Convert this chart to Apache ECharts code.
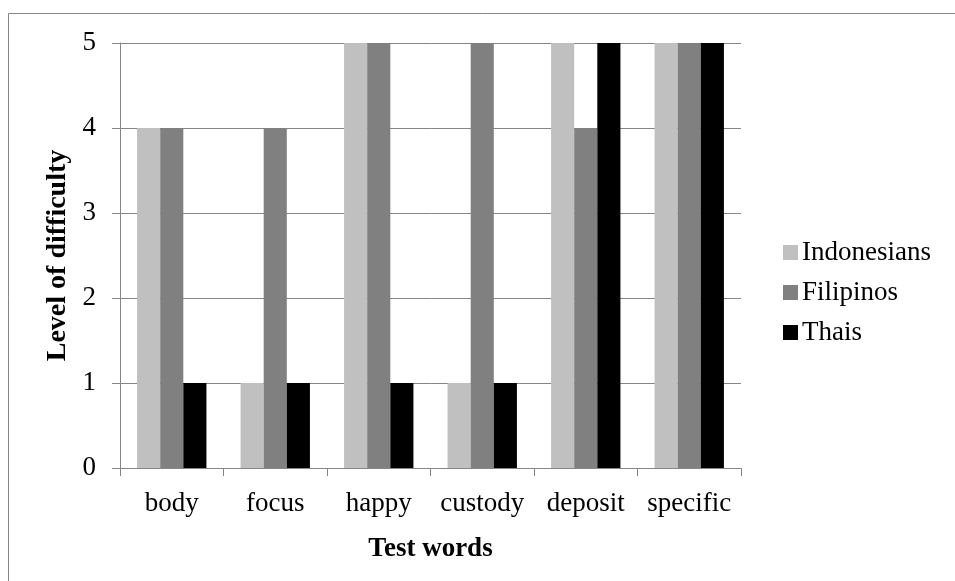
<!DOCTYPE html>
<html>
<head>
<meta charset="utf-8">
<script src="https://cdn.jsdelivr.net/npm/echarts@6/dist/echarts.min.js"></script>
<style>
  html, body { margin: 0; padding: 0; background: #fff; }
  #main { width: 955px; height: 581px; }
</style>
</head>
<body>
<div id="main"></div>
<script>
// data
var words = ["body", "focus", "happy", "custody", "deposit", "specific"];
var indonesians = [4, 1, 5, 1, 5, 5];
var filipinos = [4, 4, 5, 5, 4, 5];
var thais = [1, 1, 1, 1, 5, 5];

var font = "Liberation Serif";
var chart = echarts.init(document.getElementById("main"));

function bar(name, data, color) {
  return {
    name: name,
    type: "bar",
    data: data,
    barGap: "0%",
    barCategoryGap: "33%",
    itemStyle: { color: color },
    emphasis: { disabled: true }
  };
}

chart.setOption({
  animation: false,
  textStyle: { fontFamily: font },
  graphic: [{
    type: "rect",
    shape: { x: 8.5, y: 13.5, width: 990, height: 620 },
    style: { fill: "none", stroke: "#868686", lineWidth: 1 },
    silent: true
  }],
  grid: { left: 120, right: 214, top: 43, bottom: 113 },
  legend: {
    orient: "vertical",
    left: 783,
    top: 239,
    padding: 0,
    itemWidth: 15,
    itemHeight: 15,
    itemGap: 13,
    icon: "rect",
    textStyle: { fontFamily: font, fontSize: 27, color: "#000", padding: [0, 0, 0, -1] },
    data: ["Indonesians", "Filipinos", "Thais"]
  },
  xAxis: {
    type: "category",
    data: words,
    name: "Test words",
    nameLocation: "middle",
    nameGap: 68,
    nameTextStyle: { fontFamily: font, fontSize: 27, fontWeight: "bold", color: "#000" },
    axisLine: { lineStyle: { color: "#868686" } },
    axisTick: { show: true, length: 8, lineStyle: { color: "#868686" } },
    axisLabel: { interval: 0, hideOverlap: false, fontFamily: font, fontSize: 27, color: "#000", margin: 22 }
  },
  yAxis: {
    type: "value",
    min: 0,
    max: 5,
    interval: 1,
    name: "Level of difficulty",
    nameLocation: "middle",
    nameGap: 48,
    nameTextStyle: { fontFamily: font, fontSize: 28, fontWeight: "bold", color: "#000" },
    axisLine: { show: true, lineStyle: { color: "#868686" } },
    axisTick: { show: true, length: 8, lineStyle: { color: "#868686" } },
    splitLine: { lineStyle: { color: "#868686" } },
    axisLabel: { fontFamily: font, fontSize: 27, color: "#000", margin: 24 }
  },
  series: [
    bar("Indonesians", indonesians, "#c0c0c0"),
    bar("Filipinos", filipinos, "#808080"),
    bar("Thais", thais, "#000000")
  ]
});
</script>
</body>
</html>
